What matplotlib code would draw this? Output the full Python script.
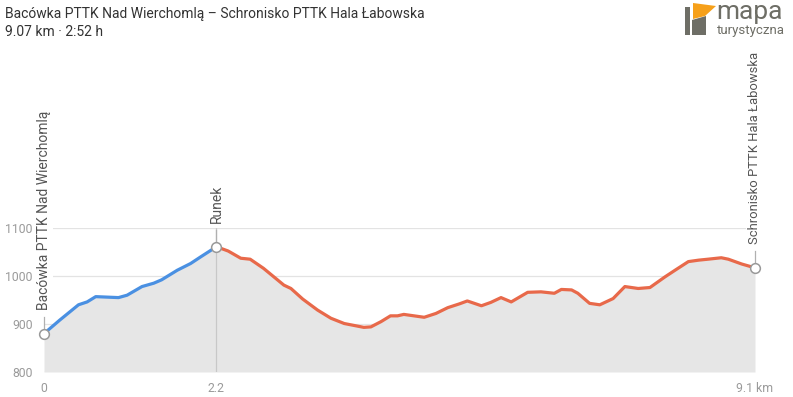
import matplotlib.pyplot as plt
from matplotlib.patches import Polygon

plt.rcParams['font.family'] = ['Roboto', 'DejaVu Sans']

# elevation profile
km_up = [0.0, 0.2, 0.44, 0.55, 0.66, 0.95, 1.06, 1.25, 1.40, 1.50, 1.70, 1.87, 2.0, 2.2]
elev_up = [880, 908, 940, 946, 957, 955, 960, 978, 985, 992, 1012, 1026, 1040, 1061]

km_down = [2.2, 2.35, 2.51, 2.63, 2.80, 3.06, 3.15, 3.30, 3.49, 3.66, 3.83, 4.08, 4.17,
           4.30, 4.42, 4.51, 4.59, 4.85, 5.00, 5.15, 5.30, 5.40, 5.58, 5.70, 5.83, 5.96,
           6.17, 6.34, 6.51, 6.60, 6.73, 6.81, 6.96, 7.09, 7.26, 7.41, 7.58, 7.73, 7.92,
           8.05, 8.22, 8.35, 8.47, 8.64, 8.73, 8.90, 9.07]
elev_down = [1061, 1052, 1037, 1035, 1016, 981, 974, 952, 929, 912, 901, 893, 894,
             905, 917, 917, 920, 914, 922, 934, 942, 948, 938, 945, 955, 946,
             966, 967, 964, 972, 971, 964, 943, 940, 953, 978, 974, 976, 998,
             1012, 1030, 1033, 1035, 1038, 1035, 1025, 1017]

poi_km = [0.0, 2.2, 9.07]
poi_elev = [880, 1061, 1017]
poi_names = ['Bacówka PTTK Nad Wierchomlą', 'Runek', 'Schronisko PTTK Hala Łabowska']
poi_size = [10, 10, 9.4]  # last one squeezed so it stops under the logo

x_ticks = [0, 2.2, 9.07]
x_labels = ['0', '2.2', '9.1 km']
y_ticks = [800, 900, 1000, 1100]

W, H = 793, 397
fig = plt.figure(figsize=(W / 100, H / 100), dpi=100)
ax = fig.add_axes([44 / W, 25 / H, 711 / W, 144 / H])

ax.fill_between(km_up + km_down[1:], elev_up + elev_down[1:], 800, color='#e6e6e6', lw=0)
ax.plot(km_up, elev_up, color='#4a90e2', lw=2.3, solid_capstyle='round')
ax.plot(km_down, elev_down, color='#e8694a', lw=2.3, solid_capstyle='round')

ax.set_xlim(0, 9.07)
ax.set_ylim(800, 1100)
ax.set_yticks(y_ticks)
ax.set_xticks(x_ticks)
ax.set_xticklabels(x_labels)
ax.grid(axis='y', color='#e3e3e3', lw=0.9)
ax.set_axisbelow(True)
for s in ax.spines.values():
    s.set_visible(False)
ax.tick_params(length=0, labelsize=8.8, colors='#9a9a9a')
ax.tick_params(axis='y', pad=8)
ax.tick_params(axis='x', pad=7)

# Runek pass line
ax.plot([2.2, 2.2], [800, 1100], color='#c8c8c8', lw=0.9, zorder=1.5)

px = 0.48  # pixels per metre
for k, e, name, fs in zip(poi_km, poi_elev, poi_names, poi_size):
    ax.plot([k, k], [e, e + 17 / px], color='#b0b0b0', lw=0.9, clip_on=False, zorder=3)
    ax.text(k, e + 24 / px, name, rotation=90, ha='center', va='bottom', fontsize=fs,
            color='#555555', zorder=5, clip_on=False,
            bbox=dict(facecolor='white', edgecolor='none', pad=1.5))
    ax.plot(k, e, 'o', ms=7, mfc='white', mec='#999999', mew=1.1, clip_on=False, zorder=6)

# header
fig.text(5 / W, 1 - 18 / H, 'Bacówka PTTK Nad Wierchomlą – Schronisko PTTK Hala Łabowska',
         fontsize=10, color='#333333', va='baseline')
fig.text(5 / W, 1 - 36 / H, '9.07 km · 2:52 h', fontsize=10, color='#333333', va='baseline')

# logo
def fpoly(pts, color):
    fig.patches.append(Polygon([(x / W, 1 - y / H) for x, y in pts], closed=True,
                               facecolor=color, edgecolor='none', transform=fig.transFigure))

fpoly([(685, 7), (690, 7), (690, 35), (685, 35)], '#6e6e66')
fpoly([(692, 20), (706, 16), (706, 35), (692, 35)], '#6e6e66')
fpoly([(693, 3), (716, 6), (705, 16), (693, 19)], '#f6a01a')
fig.text(716 / W, 1 - 19 / H, 'mapa', fontsize=19, color='#6e6e66', va='baseline')
fig.text(717 / W, 1 - 34 / H, 'turystyczna', fontsize=9.5, color='#6e6e66', va='baseline')

fig.savefig('out.png', dpi=100)
